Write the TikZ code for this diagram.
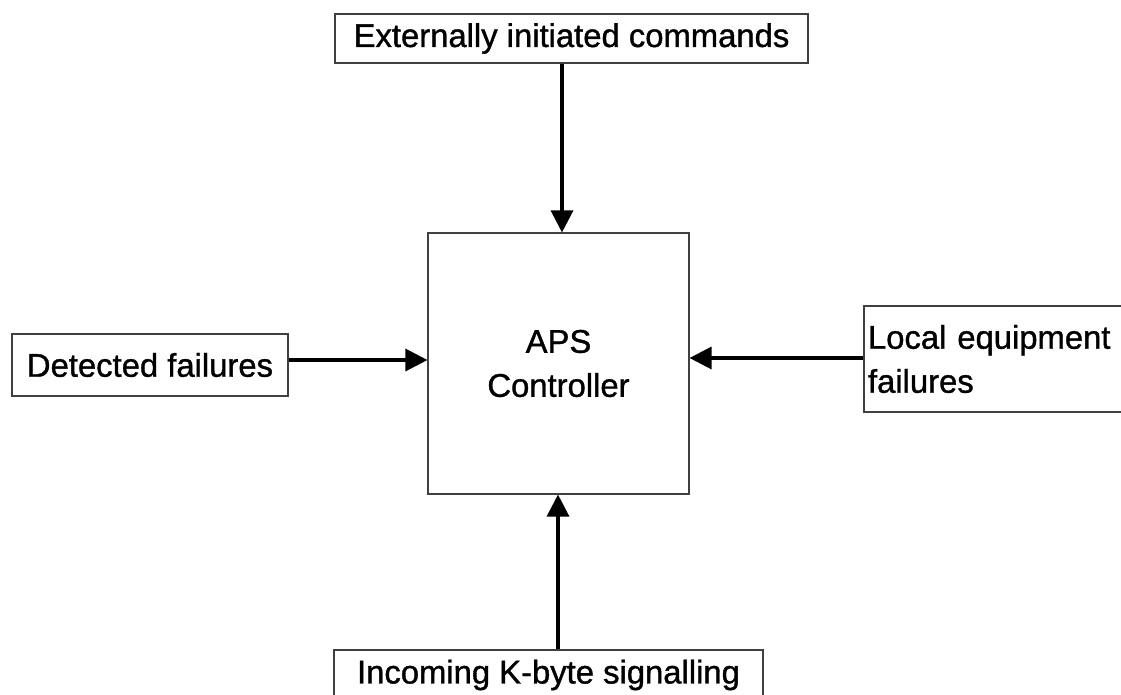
\documentclass[tikz,border=0pt]{standalone}
\usepackage{fontspec}
\setmainfont{Liberation Sans}
\newfontface\heavyfont[FakeBold=1.1]{Liberation Sans}
\usetikzlibrary{arrows.meta}
\begin{document}
\begin{tikzpicture}[x=1pt,y=-1pt,
  box/.style={draw=black!75, line width=1.1pt, rectangle, inner sep=0pt, font=\heavyfont\fontsize{32.8}{44}\selectfont},
  arr/.style={line width=3.2pt, -{Triangle[length=22pt,width=22pt]}}]
\useasboundingbox (0,0) rectangle (1121,695);
\fill[white] (0,0) rectangle (1121,695);
\clip (0,0) rectangle (1121,695);
\node[box, minimum width=473pt, minimum height=49pt] (top) at (571.5,38.5) {Externally initiated commands};
\node[box, minimum width=261pt, minimum height=261pt, align=center] (ctrl) at (558.5,363.5) {APS\\Controller};
\node[box, minimum width=276pt, minimum height=62pt] (left) at (150,365) {Detected failures};
\node[box, minimum height=106pt, text width=263pt, inner xsep=4pt, align=left] (right) at (999.5,359) {Local equipment\\failures};
\node[box, minimum width=429pt, minimum height=50pt] (bottom) at (548.5,675) {Incoming K-byte signalling};
\coordinate (ax1) at (562,0);
\coordinate (ax2) at (558,0);
\coordinate (ay1) at (0,360);
\coordinate (ay2) at (0,358);
\draw[arr] (top.south -| ax1) -- (ctrl.north -| ax1);
\draw[arr] (left.east |- ay1) -- (ctrl.west |- ay1);
\draw[arr] (right.west |- ay2) -- (ctrl.east |- ay2);
\draw[arr] (bottom.north -| ax2) -- (ctrl.south -| ax2);
\end{tikzpicture}
\end{document}
